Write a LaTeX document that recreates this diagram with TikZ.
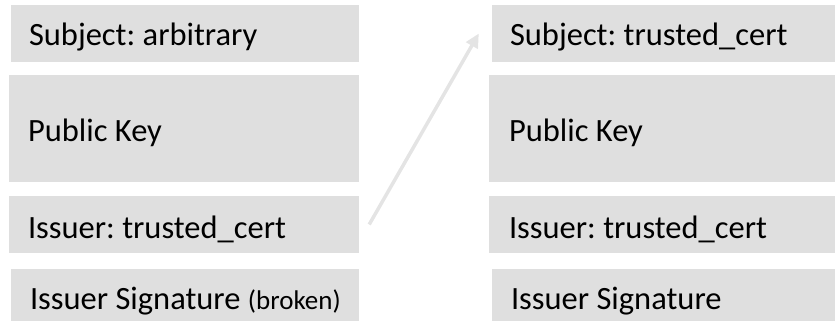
\documentclass[tikz,border=0pt]{standalone}
\usepackage{fontspec}
\setmainfont{Carlito}
\usetikzlibrary{arrows.meta}
\definecolor{boxgray}{HTML}{DFDFDF}
\definecolor{arrowgray}{HTML}{E4E4E4}
\frenchspacing

\begin{document}
\begin{tikzpicture}[x=1pt,y=-1pt]
	\useasboundingbox (0,0) rectangle (835,321);
	\begin{scope}[every node/.style={rectangle, fill=boxgray, inner sep=0pt}]
		\node[minimum width=348pt, minimum height=57pt] (subjL) at (185,33.5) {};
		\node[minimum width=350pt, minimum height=107pt] (keyL) at (184,128.5) {};
		\node[minimum width=350pt, minimum height=57pt] (issL) at (184,224.5) {};
		\node[minimum width=348pt, minimum height=52pt] (sigL) at (185,295) {};
		\node[minimum width=343pt, minimum height=57pt] (subjR) at (663.5,33.5) {};
		\node[minimum width=346pt, minimum height=107pt] (keyR) at (662,128.5) {};
		\node[minimum width=346pt, minimum height=57pt] (issR) at (662,224.5) {};
		\node[minimum width=343pt, minimum height=52pt] (sigR) at (663.5,295) {};
	\end{scope}

	\begin{scope}[every node/.style={anchor=base west, inner sep=0pt, font=\fontsize{32.5}{38}\selectfont}]
		\node (subjLtext) at ([xshift=18pt,yshift=-12.5pt]subjL.west) {Subject: arbitrary};
		\node (keyLtext) at ([xshift=19pt,yshift=-12.5pt]keyL.west) {Public Key};
		\node (issLtext) at ([xshift=19pt,yshift=-13.5pt]issL.west) {Issuer: trusted\_cert};
		\node (sigLtext) at ([xshift=19pt,yshift=-14pt]sigL.west) {Issuer Signature {\fontsize{27}{32}\selectfont(broken)}};
		\node (subjRtext) at ([xshift=18pt,yshift=-12.5pt]subjR.west) {Subject: trusted\_cert};
		\node (keyRtext) at ([xshift=20pt,yshift=-12.5pt]keyR.west) {Public Key};
		\node (issRtext) at ([xshift=20pt,yshift=-13.5pt]issR.west) {Issuer: trusted\_cert};
		\node (sigRtext) at ([xshift=19pt,yshift=-14pt]sigR.west) {Issuer Signature};
	\end{scope}

	\begin{scope}[>={Triangle[length=14pt,width=13pt]},
	              every edge/.style={draw=arrowgray, line width=3.5pt}]
		\coordinate (arrowfrom) at ([xshift=10pt]issL.east);
		\coordinate (arrowto) at ([xshift=-13pt]subjR.west);
		\path (arrowfrom) edge[->] (arrowto);
	\end{scope}
\end{tikzpicture}
\end{document}
